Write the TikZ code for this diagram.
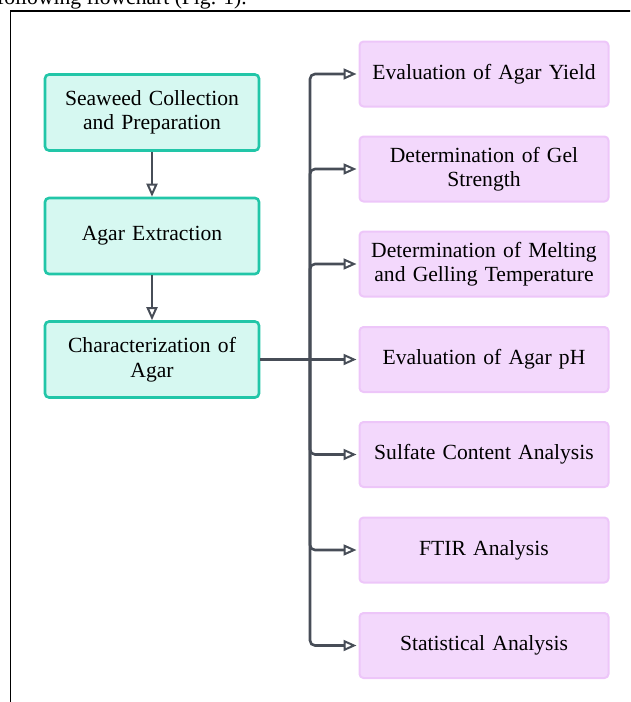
\documentclass[tikz,border=0pt]{standalone}
\usepackage{fontspec}
\setmainfont{Liberation Serif}
\usetikzlibrary{arrows.meta}
\definecolor{cyanfill}{HTML}{D6F8F1}
\definecolor{cyanline}{HTML}{22C6A8}
\definecolor{pinkfill}{HTML}{F3D8FC}
\definecolor{pinkline}{HTML}{EDC6F9}
\definecolor{conncol}{HTML}{474D57}
\tikzset{
  leftbox/.style={draw=cyanline, fill=cyanfill, line width=2.6pt, rounded corners=4pt,
    minimum width=214pt, minimum height=76pt, text width=210pt, align=center, inner sep=0pt,
    font=\fontsize{21.6}{24.5}\selectfont},
  rightbox/.style={draw=pinkline, fill=pinkfill, line width=2pt, rounded corners=4pt,
    minimum width=249pt, minimum height=65pt, text width=245pt, align=center, inner sep=0pt,
    font=\fontsize{21.6}{24.5}\selectfont},
  conn/.style={draw=conncol, line width=2.6pt},
  arr/.style={conn, -{Triangle[open, length=13pt, width=11pt, line width=2pt]}},
}
\begin{document}
\begin{tikzpicture}[x=1pt, y=-1pt]
\useasboundingbox (0,0) rectangle (630,702);
\begin{scope}
\clip (0,0) rectangle (630,702);
\node[anchor=base west, inner sep=0pt, font=\fontsize{21.6}{24}\selectfont] (top) at (-3,4) {following flowchart (Fig. 1).};
\draw[black, line width=1.8pt] (10.5,720) -- (10.5,11) -- (650,11);
\end{scope}

\node[leftbox] (c1) at (152,112.5) {Seaweed Collection\\and Preparation};
\node[leftbox] (c2) at (152,236) {Agar Extraction};
\node[leftbox] (c3) at (152,359.5) {Characterization of\\Agar};

\node[rightbox] (r1) at (484,74) {Evaluation of Agar Yield};
\node[rightbox] (r2) at (484,169) {Determination of Gel\\Strength};
\node[rightbox] (r3) at (484,264) {Determination of Melting\\and Gelling Temperature};
\node[rightbox] (r4) at (484,359.5) {Evaluation of Agar pH};
\node[rightbox] (r5) at (484,454.5) {Sulfate Content Analysis};
\node[rightbox] (r6) at (484,550) {FTIR Analysis};
\node[rightbox] (r7) at (484,645.5) {Statistical Analysis};

\draw[arr] (c1) -- (c2);
\draw[arr] (c2) -- (c3);

\coordinate (j) at (310,359.5);
\draw[conn] (c3.east) -- (j);
\foreach \k in {1,2,3,5,6,7}{
  \draw[arr, rounded corners=5pt] (j) |- ([xshift=-2pt]r\k.west);
}
\draw[arr] (j) -- ([xshift=-2pt]r4.west);
\end{tikzpicture}
\end{document}
